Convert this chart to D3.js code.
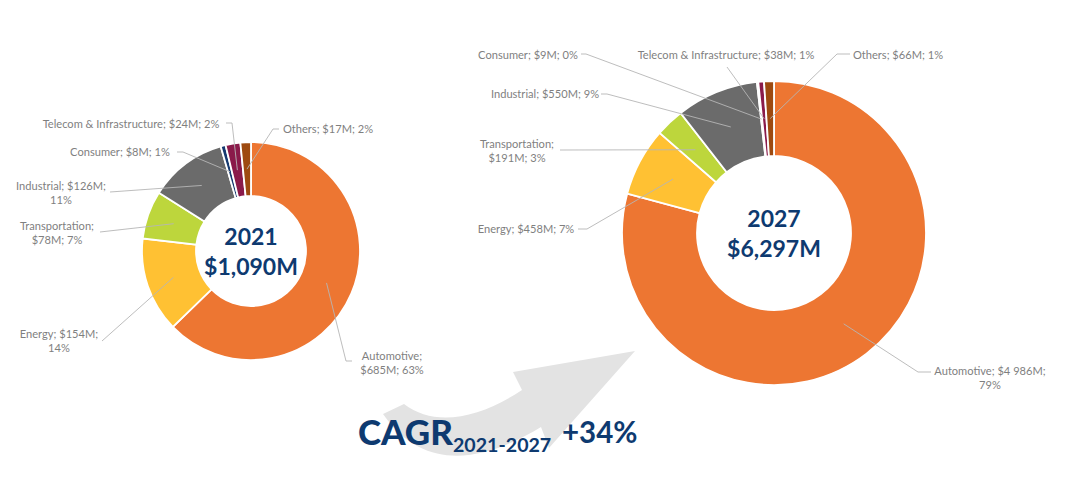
<!DOCTYPE html>
<html>
<head>
<meta charset="utf-8">
<script src="https://cdnjs.cloudflare.com/ajax/libs/d3/7.8.5/d3.min.js"></script>
<style>
  html, body { margin: 0; padding: 0; background: #fff; }
  svg { display: block; font-family: Lato, sans-serif; }
</style>
</head>
<body>
<div id="root"></div>
<script>
// data, clockwise from 12 o'clock
var categories = ["Automotive", "Energy", "Transportation", "Industrial", "Consumer", "Telecom & Infrastructure", "Others"];
var values2021 = [685, 154, 78, 126, 8, 24, 17];
var values2027 = [4986, 458, 191, 550, 9, 38, 66];
var labels2021 = [
  ["Automotive;", "$685M; 63%"],
  ["Energy; $154M;", "14%"],
  ["Transportation;", "$78M; 7%"],
  ["Industrial; $126M;", "11%"],
  ["Consumer; $8M; 1%"],
  ["Telecom & Infrastructure; $24M; 2%"],
  ["Others; $17M; 2%"]
];
var labels2027 = [
  ["Automotive; $4 986M;", "79%"],
  ["Energy; $458M; 7%"],
  ["Transportation;", "$191M; 3%"],
  ["Industrial; $550M; 9%"],
  ["Consumer; $9M; 0%"],
  ["Telecom & Infrastructure; $38M; 1%"],
  ["Others; $66M; 1%"]
];
var colors = ["#ED7632", "#FFC133", "#BDD63C", "#6B6B6B", "#163A70", "#8A1A4A", "#9E4A10"];

// layout: label centre x, first line y, then leader start and optional elbow
var layout2021 = [
  { x: 392, y: 356, from: [352, 361], elbow: [346, 361] },
  { x: 59,  y: 334, from: [102, 341] },
  { x: 57,  y: 226, from: [100, 232] },
  { x: 61,  y: 186, from: [110, 192] },
  { x: 120, y: 152, from: [177, 152], elbow: [183, 152] },
  { x: 131, y: 124, from: [226, 123], elbow: [232, 123] },
  { x: 328, y: 129, from: [279, 129], elbow: [273, 129] }
];
var layout2027 = [
  { x: 990, y: 371, from: [931, 372], elbow: [918, 372] },
  { x: 526, y: 229, from: [578, 229], elbow: [587, 229] },
  { x: 517, y: 144, from: [560, 150] },
  { x: 545, y: 94,  from: [601, 94], elbow: [607, 94] },
  { x: 528, y: 55,  from: [581, 54], elbow: [586, 54] },
  { x: 726, y: 55,  from: [727, 67] },
  { x: 898, y: 55,  from: [850, 54], elbow: [837, 54] }
];

var width = 1080, height = 501;
var textGrey = "#7f7f7f", navy = "#0E3A70";

var svg = d3.select("#root").append("svg").attr("width", width).attr("height", height);

// big curved arrow behind the CAGR text
svg.append("path")
  .attr("fill", "#e3e3e3")
  .attr("d", "M383,414 L404,404 C435,428 480,418 522,390 L513,372 L635,351 L549,448 L541,427 C500,452 430,482 383,414 Z");

function donut(values, labels, place, cx, cy, outer, inner, title) {
  var pie = d3.pie().sort(null).startAngle(0).endAngle(2 * Math.PI);
  var arc = d3.arc().innerRadius(inner).outerRadius(outer);
  var arcs = pie(values);
  var g = svg.append("g").attr("transform", "translate(" + cx + "," + cy + ")");

  g.selectAll("path.slice")
    .data(arcs)
    .enter().append("path")
    .attr("class", "slice")
    .attr("d", arc)
    .attr("fill", (d, i) => colors[i])
    .attr("stroke", "#fff")
    .attr("stroke-width", 1.8);

  // leaders end at the slice centroid
  var line = d3.line();
  svg.selectAll(null)
    .data(arcs)
    .enter().append("path")
    .attr("fill", "none")
    .attr("stroke", "#b5b5b5")
    .attr("stroke-width", 0.9)
    .attr("d", function (d, i) {
      var c = arc.centroid(d);
      var pts = [place[i].from];
      if (place[i].elbow) pts.push(place[i].elbow);
      pts.push([c[0] + cx, c[1] + cy]);
      return line(pts);
    });

  // labels
  labels.forEach(function (lines, i) {
    lines.forEach(function (t, j) {
      svg.append("text")
        .attr("x", place[i].x)
        .attr("y", place[i].y + j * 14 + 4)
        .attr("text-anchor", "middle")
        .attr("font-size", 11.1)
        .attr("fill", textGrey)
        .text(t);
    });
  });

  // centre title
  title.forEach(function (t, j) {
    g.append("text")
      .attr("y", (j - 0.5) * 30 + 9)
      .attr("text-anchor", "middle")
      .attr("font-size", 23)
      .attr("font-weight", 700)
      .attr("fill", navy)
      .text(t);
  });
}

donut(values2021, labels2021, layout2021, 251, 251, 109, 55, ["2021", "$1,090M"]);
donut(values2027, labels2027, layout2027, 774, 233, 152, 77, ["2027", "$6,297M"]);

// CAGR line
svg.append("text").attr("x", 358).attr("y", 445)
  .attr("font-size", 35).attr("font-weight", 900).attr("fill", navy).text("CAGR");
svg.append("text").attr("x", 453).attr("y", 452)
  .attr("font-size", 19.6).attr("font-weight", 700).attr("fill", navy).text("2021-2027");
svg.append("text").attr("x", 562).attr("y", 443)
  .attr("font-size", 29.5).attr("font-weight", 700).attr("fill", navy).text("+34%");
</script>
</body>
</html>
